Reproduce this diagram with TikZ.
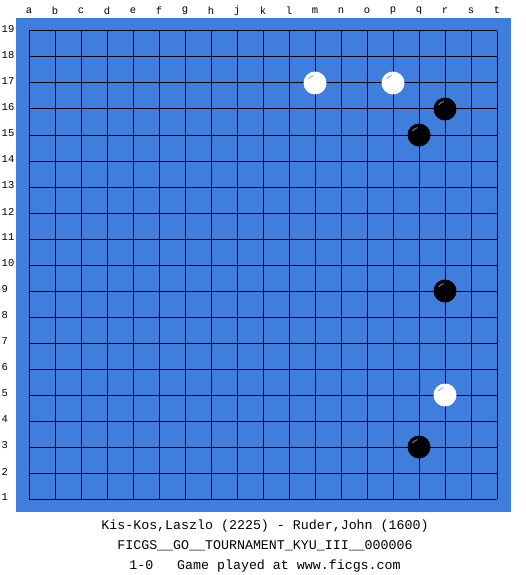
\documentclass[tikz,border=0pt]{standalone}
\usepackage{fontspec}
\setmonofont{Liberation Mono}
\definecolor{boardblue}{RGB}{64,126,222}
\definecolor{hlwhite}{RGB}{140,185,240}
\definecolor{hlblack}{RGB}{100,125,170}
\begin{document}
\begin{tikzpicture}[x=1pt,y=-1pt,
  gridline/.style={line width=1pt,black},
  collabel/.style={font=\ttfamily\fontsize{10.5}{12}\selectfont,inner sep=0pt},
  rowlabel/.style={font=\ttfamily\fontsize{10.5}{12}\selectfont,inner sep=0pt,anchor=west},
  infotext/.style={font=\ttfamily\fontsize{13.3}{16}\selectfont,inner sep=0pt,anchor=base},
  whitestone/.style={circle,fill=white,minimum size=23pt,inner sep=0pt},
  blackstone/.style={circle,fill=black,minimum size=23pt,inner sep=0pt}]
\useasboundingbox (0,0) rectangle (525,575);
\fill[white] (0,0) rectangle (525,575);
\fill[boardblue] (16,18) rectangle (511,512);
% grid
\foreach \i in {0,...,18}{
  \draw[gridline] (29+26*\i,31) -- (29+26*\i,499);
  \draw[gridline] (29,31+26*\i) -- (497,31+26*\i);
}
% column labels
\foreach \l [count=\i from 0] in {a,b,c,d,e,f,g,h,j,k,l,m,n,o,p,q,r,s,t}{
  \node[collabel] (col\l) at (29+26*\i,10.5) {\l};
}
% row labels
\foreach \r in {1,...,19}{
  \node[rowlabel] (row\r) at (1.5,497.5-26*\r+26) {\r};
}
% stones
\node[whitestone] (m17) at (315,83) {};
\node[whitestone] (p17) at (393,83) {};
\node[whitestone] (r5) at (445,395) {};
\node[blackstone] (r16) at (445,109) {};
\node[blackstone] (q15) at (419,135) {};
\node[blackstone] (r9) at (445,291) {};
\node[blackstone] (q3) at (419,447) {};
\foreach \s in {m17,p17,r5}{
  \draw[hlwhite,line width=1pt] ([xshift=-1.3pt,yshift=7.4pt]\s.center) arc[start angle=100,end angle=150,radius=7.5pt];
}
\foreach \s in {r16,q15,r9,q3}{
  \draw[hlblack,line width=1pt] ([xshift=-1.3pt,yshift=7.4pt]\s.center) arc[start angle=100,end angle=150,radius=7.5pt];
}
% info text
\node[infotext] (players) at (265,529) {Kis-Kos,Laszlo (2225) - Ruder,John (1600)};
\node[infotext] (event) at (265,549) {FICGS\_\_GO\_\_TOURNAMENT\_KYU\_III\_\_000006};
\node[infotext] (result) at (265,569) {1-0\ \ \ Game played at www.ficgs.com};
\end{tikzpicture}
\end{document}
